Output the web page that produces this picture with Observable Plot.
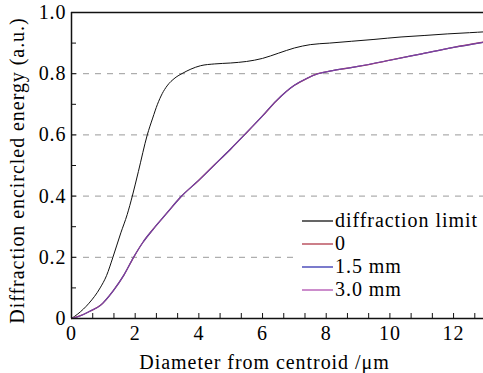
<!DOCTYPE html>
<html>
<head>
<meta charset="utf-8">
<style>
  body { margin: 0; background: #fff; font-family: "Liberation Serif", serif; }
  #wrap { position: relative; width: 483px; height: 373px; font-family: "Liberation Serif", serif; }
  #wrap svg text { letter-spacing: 0.95px; }
  #legend { position: absolute; left: 297px; top: 208px; width: 186px; height: 92px; background: #fff; }
  .row { position: absolute; left: 5px; height: 23px; display: flex; align-items: center; font-family: "Liberation Serif", serif; font-size: 20px; letter-spacing: 0.95px; color: #000; white-space: nowrap; }
  .row svg { margin-right: 2px; }
  #preload { position: absolute; left: 0; top: 0; opacity: 0; font-family: "Liberation Serif", serif; font-size: 20px; }
</style>
<script src="https://cdn.jsdelivr.net/npm/d3@7"></script>
<script src="https://cdn.jsdelivr.net/npm/@observablehq/plot@0.6"></script>
</head>
<body>
<div id="preload">Diffraction 0.123456789 μm</div>
<div id="wrap"></div>
<script>
// Diffraction limit curve
const diffX = [0, 0.2, 0.55, 0.9, 1.1, 1.3, 1.55, 1.75, 1.91, 2.1, 2.38, 2.55, 2.7, 2.85, 3.0, 3.25, 3.5, 3.75, 4.05, 4.5, 5.0, 5.5, 6.0, 6.5, 7.0, 7.5, 8.1, 8.8, 9.5, 10.35, 11.1, 11.8, 12.5, 13];
const diffY = [0, 0.015, 0.05, 0.1, 0.14, 0.2, 0.28, 0.34, 0.4, 0.48, 0.6, 0.655, 0.7, 0.735, 0.76, 0.786, 0.802, 0.815, 0.826, 0.832, 0.835, 0.84, 0.85, 0.867, 0.884, 0.895, 0.9, 0.906, 0.912, 0.92, 0.925, 0.93, 0.934, 0.937];
// Aberrated curves (0, 1.5 mm, 3.0 mm overlap)
const abX = [0, 0.3, 0.6, 0.91, 1.32, 1.64, 1.95, 2.25, 2.55, 3.0, 3.43, 4.0, 4.5, 5.0, 5.43, 6.0, 6.43, 7.0, 7.4, 7.74, 8.2, 8.6, 9.0, 10.0, 11.0, 12.0, 13.0];
const ab0Y  = [0, 0.01, 0.025, 0.043, 0.092, 0.141, 0.2, 0.25, 0.29, 0.345, 0.397, 0.452, 0.503, 0.554, 0.6, 0.662, 0.711, 0.762, 0.785, 0.8, 0.81, 0.817, 0.824, 0.844, 0.865, 0.886, 0.904];
const ab15Y = [0, 0.01, 0.025, 0.043, 0.092, 0.141, 0.2, 0.25, 0.29, 0.345, 0.397, 0.452, 0.503, 0.554, 0.6, 0.662, 0.711, 0.762, 0.785, 0.8, 0.81, 0.817, 0.824, 0.844, 0.865, 0.886, 0.904];
const ab30Y = [0, 0.01, 0.025, 0.043, 0.092, 0.141, 0.2, 0.25, 0.29, 0.345, 0.397, 0.452, 0.503, 0.554, 0.6, 0.662, 0.711, 0.762, 0.785, 0.8, 0.81, 0.817, 0.824, 0.844, 0.865, 0.886, 0.904];

const seriesNames = ["diffraction limit", "0", "1.5 mm", "3.0 mm"];
const seriesColors = ["#111111", "#b03a4a", "#3434b0", "#b050b0"];

const xLabelTicks = [0, 2, 4, 6, 8, 10, 12];
const xMinorTicks = d3.range(0, 20).map(i => i * 2 / 3).filter(v => v <= 12.95);
const yLabelTicks = [0, 0.2, 0.4, 0.6, 0.8, 1.0];
const yMinorTicks = [0, 0.1, 0.2, 0.3, 0.4, 0.5, 0.6, 0.7, 0.8, 0.9, 1.0];
const gridTicks = [0.2, 0.4, 0.6, 0.8];
const yTitle = "Diffraction encircled energy (a.u.)";
const xTitle = "Diameter from centroid /\u03bcm";

const FONT = "Liberation Serif, serif";
const toRows = (xs, ys, s) => xs.map((x, i) => ({x, y: ys[i], s}));
const diffRows = toRows(diffX, diffY, seriesNames[0]);
const ab0Rows = toRows(abX, ab0Y, seriesNames[1]);
const ab15Rows = toRows(abX, ab15Y, seriesNames[2]);
const ab30Rows = toRows(abX, ab30Y, seriesNames[3]);

const chart = Plot.plot({
  width: 483,
  height: 373,
  marginLeft: 71,
  marginRight: 0,
  marginTop: 12,
  marginBottom: 55,
  style: { fontFamily: FONT, fontSize: "20px", background: "#fff", color: "#000", overflow: "visible" },
  x: { domain: [0, 12.94] },
  y: { domain: [0, 1] },
  marks: [
    Plot.ruleY(gridTicks, { stroke: "#9a9a9a", strokeDasharray: "6,6", strokeWidth: 1 }),
    Plot.line(diffRows, { x: "x", y: "y", stroke: seriesColors[0], strokeWidth: 1, curve: "monotone-x" }),
    Plot.line(ab0Rows, { x: "x", y: "y", stroke: seriesColors[1], strokeWidth: 1.3, curve: "monotone-x" }),
    Plot.line(ab15Rows, { x: "x", y: "y", stroke: seriesColors[2], strokeWidth: 1.2, curve: "monotone-x", strokeOpacity: 0.8 }),
    Plot.line(ab30Rows, { x: "x", y: "y", stroke: seriesColors[3], strokeWidth: 1, curve: "monotone-x", strokeOpacity: 0.5 }),
    Plot.ruleY([0], { stroke: "#111", strokeWidth: 1.5 }),
    Plot.ruleY([1], { stroke: "#111", strokeWidth: 1.5 }),
    Plot.ruleX([0], { stroke: "#111", strokeWidth: 1.5 }),
    Plot.axisX(xMinorTicks, { tickSize: -5, tickFormat: () => "", label: null, stroke: "#111" }),
    Plot.axisX(xLabelTicks, { tickSize: 0, tickPadding: 7, label: null, fontSize: 20, fontFamily: FONT, fill: "#000" }),
    Plot.axisY(yMinorTicks, { tickSize: -5, tickFormat: () => "", label: null, stroke: "#111" }),
    Plot.axisY(yLabelTicks, { tickSize: 0, tickPadding: 5, label: null, fontSize: 20, fontFamily: FONT, fill: "#000",
      tickFormat: d => d === 0 ? "0" : d.toFixed(1) }),
    Plot.text([yTitle], { frameAnchor: "left", textAnchor: "middle", rotate: -90, dx: -54, dy: 5, fontSize: 20, fontFamily: FONT, fill: "#000" }),
    Plot.text([xTitle], { frameAnchor: "bottom", textAnchor: "middle", lineAnchor: "bottom", dy: 50, dx: -13, fontSize: 20, fontFamily: FONT, fill: "#000" })
  ]
});

const wrap = document.getElementById("wrap");
wrap.appendChild(chart);

const legend = document.createElement("div");
legend.id = "legend";
seriesNames.forEach((name, i) => {
  const row = document.createElement("div");
  row.className = "row";
  row.style.top = (1 + i * 23) + "px";
  row.innerHTML = `<svg width="31" height="4"><line x1="0" y1="2" x2="31" y2="2" stroke="${seriesColors[i]}" stroke-width="1.3"/></svg><span>${name}</span>`;
  legend.appendChild(row);
});
wrap.appendChild(legend);
</script>
</body>
</html>
